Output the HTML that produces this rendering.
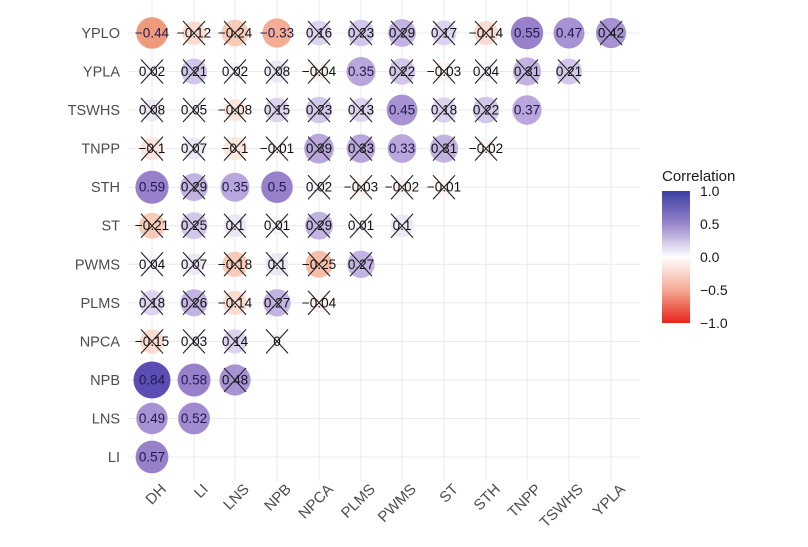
<!DOCTYPE html>
<html><head><meta charset="utf-8"><style>
html,body{margin:0;padding:0;background:#fff;}
svg{display:block;font-family:"Liberation Sans",sans-serif;}
.c text{font-size:13.5px;text-anchor:middle;fill:#111;}
.s text{fill:#1f1a4d;}
.yl{font-size:14.5px;fill:#4d4d4d;text-anchor:end;}
.xl{font-size:15px;fill:#4d4d4d;text-anchor:end;}
</style></head><body>
<svg width="808" height="547" viewBox="0 0 808 547">
<defs>
<g id="x"><line x1="-11" y1="-12" x2="11" y2="12" stroke="#222" stroke-width="1.1"/><line x1="-11" y1="12" x2="11" y2="-12" stroke="#222" stroke-width="1.1"/></g>
<linearGradient id="lg" x1="0" y1="0" x2="0" y2="1">
<stop offset="0" stop-color="#3a3fa3"/><stop offset="0.25" stop-color="#9a86cc"/><stop offset="0.5" stop-color="#ffffff"/><stop offset="0.75" stop-color="#f5a994"/><stop offset="1" stop-color="#e8241a"/>
</linearGradient>
</defs>
<g stroke="#ebebeb" stroke-width="1.1">
<line x1="152" y1="0" x2="152" y2="481"/><line x1="194" y1="0" x2="194" y2="481"/><line x1="235" y1="0" x2="235" y2="481"/><line x1="277" y1="0" x2="277" y2="481"/><line x1="319" y1="0" x2="319" y2="481"/><line x1="361" y1="0" x2="361" y2="481"/><line x1="402" y1="0" x2="402" y2="481"/><line x1="444" y1="0" x2="444" y2="481"/><line x1="486" y1="0" x2="486" y2="481"/><line x1="527" y1="0" x2="527" y2="481"/><line x1="569" y1="0" x2="569" y2="481"/><line x1="611" y1="0" x2="611" y2="481"/>
<line x1="128" y1="33" x2="640" y2="33"/><line x1="128" y1="71.5" x2="640" y2="71.5"/><line x1="128" y1="110" x2="640" y2="110"/><line x1="128" y1="148.6" x2="640" y2="148.6"/><line x1="128" y1="187.2" x2="640" y2="187.2"/><line x1="128" y1="225.7" x2="640" y2="225.7"/><line x1="128" y1="264.3" x2="640" y2="264.3"/><line x1="128" y1="302.8" x2="640" y2="302.8"/><line x1="128" y1="341.4" x2="640" y2="341.4"/><line x1="128" y1="380" x2="640" y2="380"/><line x1="128" y1="418.5" x2="640" y2="418.5"/><line x1="128" y1="457" x2="640" y2="457"/>
</g>
<g class="yl">
<text x="120" y="38">YPLO</text><text x="120" y="76.5">YPLA</text><text x="120" y="115">TSWHS</text><text x="120" y="153.6">TNPP</text><text x="120" y="192.2">STH</text><text x="120" y="230.7">ST</text><text x="120" y="269.3">PWMS</text><text x="120" y="307.8">PLMS</text><text x="120" y="346.4">NPCA</text><text x="120" y="385">NPB</text><text x="120" y="423.5">LNS</text><text x="120" y="462">LI</text>
</g>
<g class="xl">
<text transform="translate(167,490) rotate(-45)">DH</text><text transform="translate(209,490) rotate(-45)">LI</text><text transform="translate(250,490) rotate(-45)">LNS</text><text transform="translate(292,490) rotate(-45)">NPB</text><text transform="translate(334,490) rotate(-45)">NPCA</text><text transform="translate(376,490) rotate(-45)">PLMS</text><text transform="translate(417,490) rotate(-45)">PWMS</text><text transform="translate(459,490) rotate(-45)">ST</text><text transform="translate(501,490) rotate(-45)">STH</text><text transform="translate(542,490) rotate(-45)">TNPP</text><text transform="translate(584,490) rotate(-45)">TSWHS</text><text transform="translate(626,490) rotate(-45)">YPLA</text>
</g>
<!-- YPLO -->
<g class="c s" transform="translate(152,33)"><circle r="15.8" fill="#ef9a7d"/><text dy="4.5">−0.44</text></g>
<g class="c" transform="translate(194,33)"><circle r="11.8" fill="#f9dccf"/><text dy="4.5">−0.12</text><use href="#x"/></g>
<g class="c" transform="translate(235,33)"><circle r="13.4" fill="#f7cbb8"/><text dy="4.5">−0.24</text><use href="#x"/></g>
<g class="c s" transform="translate(277,33)"><circle r="14.6" fill="#f3ad95"/><text dy="4.5">−0.33</text></g>
<g class="c" transform="translate(319,33)"><circle r="12.4" fill="#ddd3ee"/><text dy="4.5">0.16</text><use href="#x"/></g>
<g class="c" transform="translate(361,33)"><circle r="13.3" fill="#d2c6ea"/><text dy="4.5">0.23</text><use href="#x"/></g>
<g class="c" transform="translate(402,33)"><circle r="13.9" fill="#c2b3e2"/><text dy="4.5">0.29</text><use href="#x"/></g>
<g class="c" transform="translate(444,33)"><circle r="12.5" fill="#ddd3ee"/><text dy="4.5">0.17</text><use href="#x"/></g>
<g class="c" transform="translate(486,33)"><circle r="12.1" fill="#f9dccf"/><text dy="4.5">−0.14</text><use href="#x"/></g>
<g class="c s" transform="translate(527,33)"><circle r="16.2" fill="#9880cb"/><text dy="4.5">0.55</text></g>
<g class="c s" transform="translate(569,33)"><circle r="15.5" fill="#a793d3"/><text dy="4.5">0.47</text></g>
<g class="c" transform="translate(611,33)"><circle r="15.1" fill="#a793d3"/><text dy="4.5">0.42</text><use href="#x"/></g>
<!-- YPLA -->
<g class="c" transform="translate(152,71.5)"><circle r="9.6" fill="#f6f3fa"/><text dy="4.5">0.02</text><use href="#x"/></g>
<g class="c" transform="translate(194,71.5)"><circle r="13" fill="#d2c6ea"/><text dy="4.5">0.21</text><use href="#x"/></g>
<g class="c" transform="translate(235,71.5)"><circle r="9.6" fill="#f6f3fa"/><text dy="4.5">0.02</text><use href="#x"/></g>
<g class="c" transform="translate(277,71.5)"><circle r="11.1" fill="#ece6f5"/><text dy="4.5">0.08</text><use href="#x"/></g>
<g class="c" transform="translate(319,71.5)"><circle r="10.2" fill="#fbf3f0"/><text dy="4.5">−0.04</text><use href="#x"/></g>
<g class="c s" transform="translate(361,71.5)"><circle r="14.5" fill="#b8a6dc"/><text dy="4.5">0.35</text></g>
<g class="c" transform="translate(402,71.5)"><circle r="13.2" fill="#d2c6ea"/><text dy="4.5">0.22</text><use href="#x"/></g>
<g class="c" transform="translate(444,71.5)"><circle r="9.9" fill="#fbf3f0"/><text dy="4.5">−0.03</text><use href="#x"/></g>
<g class="c" transform="translate(486,71.5)"><circle r="10.2" fill="#f6f3fa"/><text dy="4.5">0.04</text><use href="#x"/></g>
<g class="c" transform="translate(527,71.5)"><circle r="14.1" fill="#c2b3e2"/><text dy="4.5">0.31</text><use href="#x"/></g>
<g class="c" transform="translate(569,71.5)"><circle r="13" fill="#d2c6ea"/><text dy="4.5">0.21</text><use href="#x"/></g>
<!-- TSWHS -->
<g class="c" transform="translate(152,110)"><circle r="11.1" fill="#ece6f5"/><text dy="4.5">0.08</text><use href="#x"/></g>
<g class="c" transform="translate(194,110)"><circle r="10.5" fill="#f6f3fa"/><text dy="4.5">0.05</text><use href="#x"/></g>
<g class="c" transform="translate(235,110)"><circle r="11.1" fill="#fbe6de"/><text dy="4.5">−0.08</text><use href="#x"/></g>
<g class="c" transform="translate(277,110)"><circle r="12.3" fill="#ddd3ee"/><text dy="4.5">0.15</text><use href="#x"/></g>
<g class="c" transform="translate(319,110)"><circle r="13.3" fill="#d2c6ea"/><text dy="4.5">0.23</text><use href="#x"/></g>
<g class="c" transform="translate(361,110)"><circle r="12" fill="#ddd3ee"/><text dy="4.5">0.13</text><use href="#x"/></g>
<g class="c s" transform="translate(402,110)"><circle r="15.4" fill="#a793d3"/><text dy="4.5">0.45</text></g>
<g class="c" transform="translate(444,110)"><circle r="12.7" fill="#ddd3ee"/><text dy="4.5">0.18</text><use href="#x"/></g>
<g class="c" transform="translate(486,110)"><circle r="13.2" fill="#d2c6ea"/><text dy="4.5">0.22</text><use href="#x"/></g>
<g class="c s" transform="translate(527,110)"><circle r="14.7" fill="#b8a6dc"/><text dy="4.5">0.37</text></g>
<!-- TNPP -->
<g class="c" transform="translate(152,148.6)"><circle r="11.5" fill="#fbe6de"/><text dy="4.5">−0.1</text><use href="#x"/></g>
<g class="c" transform="translate(194,148.6)"><circle r="10.9" fill="#ece6f5"/><text dy="4.5">0.07</text><use href="#x"/></g>
<g class="c" transform="translate(235,148.6)"><circle r="11.5" fill="#fbe6de"/><text dy="4.5">−0.1</text><use href="#x"/></g>
<g class="c" transform="translate(277,148.6)"><circle r="9.1" fill="#fbf3f0"/><text dy="4.5">−0.01</text><use href="#x"/></g>
<g class="c" transform="translate(319,148.6)"><circle r="14.9" fill="#b8a6dc"/><text dy="4.5">0.39</text><use href="#x"/></g>
<g class="c" transform="translate(361,148.6)"><circle r="14.3" fill="#b8a6dc"/><text dy="4.5">0.33</text><use href="#x"/></g>
<g class="c s" transform="translate(402,148.6)"><circle r="14.3" fill="#b8a6dc"/><text dy="4.5">0.33</text></g>
<g class="c" transform="translate(444,148.6)"><circle r="14.1" fill="#c2b3e2"/><text dy="4.5">0.31</text><use href="#x"/></g>
<g class="c" transform="translate(486,148.6)"><circle r="9.6" fill="#fbf3f0"/><text dy="4.5">−0.02</text><use href="#x"/></g>
<!-- STH -->
<g class="c s" transform="translate(152,187.2)"><circle r="16.6" fill="#9880cb"/><text dy="4.5">0.59</text></g>
<g class="c" transform="translate(194,187.2)"><circle r="13.9" fill="#c2b3e2"/><text dy="4.5">0.29</text><use href="#x"/></g>
<g class="c s" transform="translate(235,187.2)"><circle r="14.5" fill="#b8a6dc"/><text dy="4.5">0.35</text></g>
<g class="c s" transform="translate(277,187.2)"><circle r="15.8" fill="#9880cb"/><text dy="4.5">0.5</text></g>
<g class="c" transform="translate(319,187.2)"><circle r="9.6" fill="#f6f3fa"/><text dy="4.5">0.02</text><use href="#x"/></g>
<g class="c" transform="translate(361,187.2)"><circle r="9.9" fill="#fbf3f0"/><text dy="4.5">−0.03</text><use href="#x"/></g>
<g class="c" transform="translate(402,187.2)"><circle r="9.6" fill="#fbf3f0"/><text dy="4.5">−0.02</text><use href="#x"/></g>
<g class="c" transform="translate(444,187.2)"><circle r="9.1" fill="#fbf3f0"/><text dy="4.5">−0.01</text><use href="#x"/></g>
<!-- ST -->
<g class="c" transform="translate(152,225.7)"><circle r="13" fill="#f7cbb8"/><text dy="4.5">−0.21</text><use href="#x"/></g>
<g class="c" transform="translate(194,225.7)"><circle r="13.5" fill="#d2c6ea"/><text dy="4.5">0.25</text><use href="#x"/></g>
<g class="c" transform="translate(235,225.7)"><circle r="11.5" fill="#ece6f5"/><text dy="4.5">0.1</text><use href="#x"/></g>
<g class="c" transform="translate(277,225.7)"><circle r="9.1" fill="#f6f3fa"/><text dy="4.5">0.01</text><use href="#x"/></g>
<g class="c" transform="translate(319,225.7)"><circle r="13.9" fill="#c2b3e2"/><text dy="4.5">0.29</text><use href="#x"/></g>
<g class="c" transform="translate(361,225.7)"><circle r="9.1" fill="#f6f3fa"/><text dy="4.5">0.01</text><use href="#x"/></g>
<g class="c" transform="translate(402,225.7)"><circle r="11.5" fill="#ece6f5"/><text dy="4.5">0.1</text><use href="#x"/></g>
<!-- PWMS -->
<g class="c" transform="translate(152,264.3)"><circle r="10.2" fill="#f6f3fa"/><text dy="4.5">0.04</text><use href="#x"/></g>
<g class="c" transform="translate(194,264.3)"><circle r="10.9" fill="#ece6f5"/><text dy="4.5">0.07</text><use href="#x"/></g>
<g class="c" transform="translate(235,264.3)"><circle r="12.7" fill="#f7cbb8"/><text dy="4.5">−0.18</text><use href="#x"/></g>
<g class="c" transform="translate(277,264.3)"><circle r="11.5" fill="#ece6f5"/><text dy="4.5">0.1</text><use href="#x"/></g>
<g class="c" transform="translate(319,264.3)"><circle r="13.5" fill="#f6bea8"/><text dy="4.5">−0.25</text><use href="#x"/></g>
<g class="c" transform="translate(361,264.3)"><circle r="13.7" fill="#c2b3e2"/><text dy="4.5">0.27</text><use href="#x"/></g>
<!-- PLMS -->
<g class="c" transform="translate(152,302.8)"><circle r="12.7" fill="#ddd3ee"/><text dy="4.5">0.18</text><use href="#x"/></g>
<g class="c" transform="translate(194,302.8)"><circle r="13.6" fill="#c2b3e2"/><text dy="4.5">0.26</text><use href="#x"/></g>
<g class="c" transform="translate(235,302.8)"><circle r="12.1" fill="#f9dccf"/><text dy="4.5">−0.14</text><use href="#x"/></g>
<g class="c" transform="translate(277,302.8)"><circle r="13.7" fill="#c2b3e2"/><text dy="4.5">0.27</text><use href="#x"/></g>
<g class="c" transform="translate(319,302.8)"><circle r="10.2" fill="#fbf3f0"/><text dy="4.5">−0.04</text><use href="#x"/></g>
<!-- NPCA -->
<g class="c" transform="translate(152,341.4)"><circle r="12.3" fill="#f9dccf"/><text dy="4.5">−0.15</text><use href="#x"/></g>
<g class="c" transform="translate(194,341.4)"><circle r="9.9" fill="#f6f3fa"/><text dy="4.5">0.03</text><use href="#x"/></g>
<g class="c" transform="translate(235,341.4)"><circle r="12.1" fill="#ddd3ee"/><text dy="4.5">0.14</text><use href="#x"/></g>
<g class="c" transform="translate(277,341.4)"><circle r="7.5" fill="#f4f4f4"/><text dy="4.5">0</text><use href="#x"/></g>
<!-- NPB -->
<g class="c s" transform="translate(152,380)"><circle r="18.5" fill="#5a4db3"/><text dy="4.5">0.84</text></g>
<g class="c s" transform="translate(194,380)"><circle r="16.5" fill="#9880cb"/><text dy="4.5">0.58</text></g>
<g class="c" transform="translate(235,380)"><circle r="15.6" fill="#a793d3"/><text dy="4.5">0.48</text><use href="#x"/></g>
<!-- LNS -->
<g class="c s" transform="translate(152,418.5)"><circle r="15.7" fill="#a793d3"/><text dy="4.5">0.49</text></g>
<g class="c s" transform="translate(194,418.5)"><circle r="15.9" fill="#a08bd0"/><text dy="4.5">0.52</text></g>
<!-- LI -->
<g class="c s" transform="translate(152,457)"><circle r="16.4" fill="#9880cb"/><text dy="4.5">0.57</text></g>
<!-- legend -->
<text x="662" y="181" font-size="15" fill="#1a1a1a">Correlation</text>
<rect x="662" y="191" width="28" height="132" fill="url(#lg)"/>
<g font-size="14" fill="#1a1a1a">
<text x="700" y="196">1.0</text><text x="700" y="229">0.5</text><text x="700" y="262">0.0</text><text x="700" y="295">−0.5</text><text x="700" y="328">−1.0</text>
</g>
</svg>
</body></html>
